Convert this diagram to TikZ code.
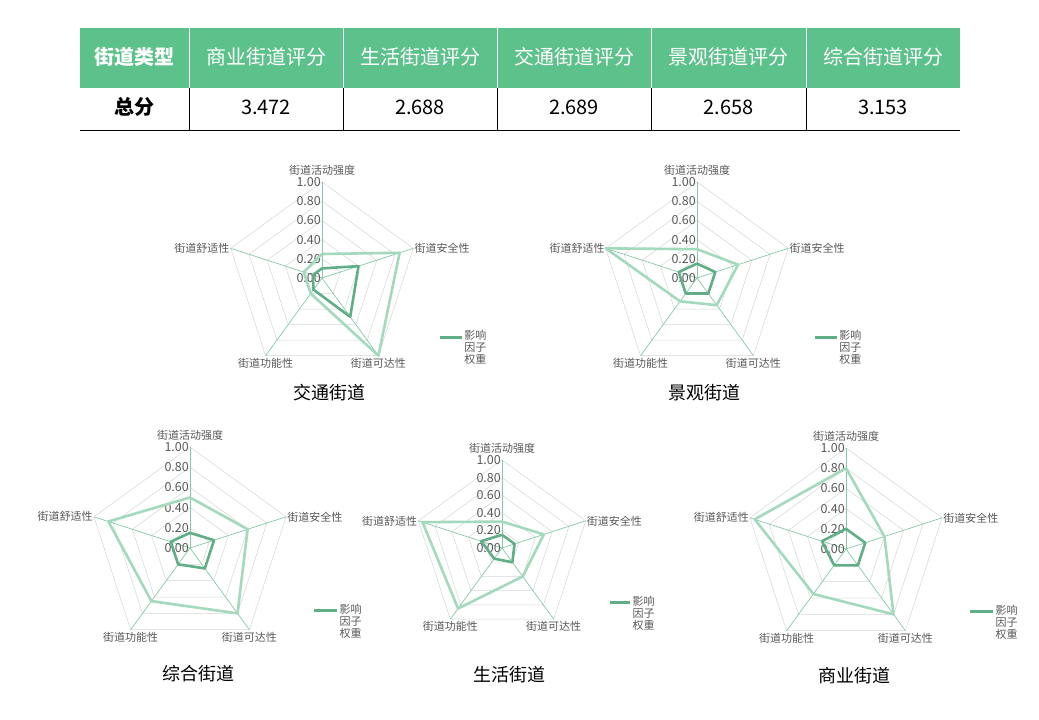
\documentclass[tikz,border=0pt]{standalone}
\usepackage{fontspec}
\setmainfont{Noto Sans CJK SC}
\definecolor{hdr}{HTML}{5DC18B}
\definecolor{lite}{HTML}{A3D9BC}
\definecolor{dark}{HTML}{5FAE85}
\definecolor{spoke}{HTML}{86C9A6}
\definecolor{ring}{HTML}{D6D6D6}
\definecolor{txt}{HTML}{595959}
\tikzset{
  hcell/.style={text=white,font=\fontsize{20}{20}\selectfont},
  vcell/.style={text=black,font=\fontsize{20}{20}\selectfont},
  axl/.style={text=txt,font=\fontsize{11}{12}\selectfont,inner sep=1pt},
  tick/.style={text=txt,font=\fontsize{12.5}{13}\selectfont,inner sep=0pt,anchor=east},
  ttl/.style={text=black,font=\fontsize{18}{19}\selectfont},
  litepoly/.style={draw=lite,line width=2.6pt,line join=round},
  darkpoly/.style={draw=dark,line width=2.6pt,line join=round},
}
% #1 name, #2 cx, #3 cy, #4 R, #5 light list, #6 dark list, #7 title, #8 title y factor
\newcommand\myradar[8]{%
  \begin{scope}[shift={(#2,#3)}]
  \foreach \r in {0.2,0.4,0.6,0.8,1.0}{
    \draw[ring,line width=0.5pt] (-90:\r*#4) -- (-18:\r*#4) -- (54:\r*#4) -- (126:\r*#4) -- (198:\r*#4) -- cycle;}
  \foreach \a/\k in {-90/a,-18/b,54/c,126/d,198/e}{
    \coordinate (#1\k) at (\a:#4);
    \coordinate (#1o\k) at (0,0);
    \draw[spoke,line width=0.7pt] (#1o\k) -- (#1\k);}
  \foreach \v [count=\i] in {0.00,0.20,0.40,0.60,0.80,1.00}{
    \node[tick] (#1t\i) at (-1pt,{-(\i-1)*0.2*#4}) {\v};}
  \foreach \va/\vb/\vc/\vd/\ve in {#5}{
    \draw[litepoly] (-90:\va*#4) coordinate (#1la) -- (-18:\vb*#4) coordinate (#1lb) -- (54:\vc*#4) coordinate (#1lc) -- (126:\vd*#4) coordinate (#1ld) -- (198:\ve*#4) coordinate (#1le) -- cycle;}
  \foreach \va/\vb/\vc/\vd/\ve in {#6}{
    \draw[darkpoly] (-90:\va*#4) coordinate (#1da) -- (-18:\vb*#4) coordinate (#1db) -- (54:\vc*#4) coordinate (#1dc) -- (126:\vd*#4) coordinate (#1dd) -- (198:\ve*#4) coordinate (#1de) -- cycle;}
  \node[axl,anchor=south] (#1na) at ([yshift=5pt]#1a) {街道活动强度};
  \node[axl,anchor=west] (#1nb) at (#1b) {街道安全性};
  \node[axl,anchor=north] (#1nc) at ([yshift=-1pt]#1c) {街道可达性};
  \node[axl,anchor=north] (#1nd) at ([yshift=-1pt]#1d) {街道功能性};
  \node[axl,anchor=east] (#1ne) at (#1e) {街道舒适性};
  \coordinate (#1g1) at ({1.23*#4},{0.62*#4});
  \coordinate (#1g2) at ({1.46*#4},{0.62*#4});
  \draw[dark,line width=2.6pt] (#1g1) -- (#1g2);
  \node[axl,anchor=north west,align=left,inner sep=0pt] (#1leg) at ([xshift=2pt,yshift=7pt]#1g2) {影响\\因子\\权重};
  \node[ttl] (#1ttl) at ({0.08*#4},{#8*#4}) {#7};
  \end{scope}}
\begin{document}
\begin{tikzpicture}[x=1pt,y=-1pt]
\useasboundingbox (0,0) rectangle (1039,720);
\fill[white] (0,0) rectangle (1039,720);
% table
\fill[hdr] (80,28) rectangle (960,88);
\foreach \x in {189,343,497,651,806}{\draw[white,line width=1pt] (\x,28) -- (\x,88);}
\foreach \x in {189,343,497,651,806}{\draw[black,line width=0.6pt] (\x,88) -- (\x,130);}
\draw[black,line width=0.8pt] (80,130) -- (960,130);
\node[hcell,font=\bfseries\fontsize{20}{20}\selectfont] (h0) at (134.5,57) {街道类型};
\node[hcell] (h1) at (266,57) {商业街道评分};
\node[hcell] (h2) at (420,57) {生活街道评分};
\node[hcell] (h3) at (574,57) {交通街道评分};
\node[hcell] (h4) at (728.5,57) {景观街道评分};
\node[hcell] (h5) at (883,57) {综合街道评分};
\node[vcell,font=\bfseries\fontsize{20}{20}\selectfont] (v0) at (134.5,107) {总分};
\node[vcell] (v1) at (266,107) {3.472};
\node[vcell] (v2) at (420,107) {2.688};
\node[vcell] (v3) at (574,107) {2.689};
\node[vcell] (v4) at (728.5,107) {2.658};
\node[vcell] (v5) at (883,107) {3.153};
% radars
\myradar{A}{322}{278}{96}{0.25/0.85/1.0/0.2/0.2}{0.1/0.4/0.5/0.15/0.1}{交通街道}{1.19}
\myradar{B}{697}{278}{96}{0.3/0.45/0.35/0.3/1.0}{0.15/0.2/0.2/0.2/0.2}{景观街道}{1.19}
\myradar{C}{190}{548}{101}{0.5/0.6/0.8/0.65/0.85}{0.15/0.25/0.25/0.2/0.2}{综合街道}{1.24}
\myradar{D}{502}{548}{88}{0.3/0.5/0.4/0.85/0.95}{0.15/0.15/0.2/0.15/0.25}{生活街道}{1.44}
\myradar{E}{846}{549}{101}{0.8/0.4/0.8/0.55/0.95}{0.2/0.2/0.2/0.2/0.25}{商业街道}{1.25}
\end{tikzpicture}
\end{document}
